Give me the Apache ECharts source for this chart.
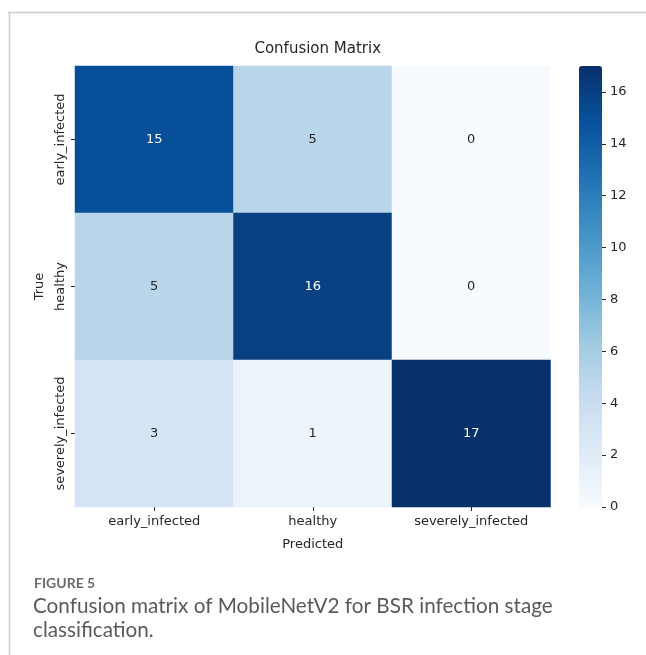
<!DOCTYPE html>
<html>
<head>
<meta charset="utf-8">
<script src="https://cdn.jsdelivr.net/npm/echarts@6/dist/echarts.min.js"></script>
<style>
  html, body { margin: 0; padding: 0; background: #ffffff; }
  #chart { width: 646px; height: 655px; }
</style>
</head>
<body>
<div id="chart"></div>
<script>
// Class labels (predicted on x, true on y)
const predictedLabels = ['early_infected', 'healthy', 'severely_infected'];
const trueLabels = ['early_infected', 'healthy', 'severely_infected'];

// Confusion counts, one row per true class
const rowEarly = [15, 5, 0];
const rowHealthy = [5, 16, 0];
const rowSevere = [3, 1, 17];
const matrixRows = [rowEarly, rowHealthy, rowSevere];

// Colour bar range and ticks
const colorMin = 0;
const colorMax = 17;
const colorTickStep = 2;

// matplotlib "Blues" colormap
const blues = ['#f7fbff', '#deebf7', '#c6dbef', '#9ecae1', '#6baed6',
               '#4292c6', '#2171b5', '#08519c', '#08306b'];

const cellData = [];
matrixRows.forEach((row, yi) => {
  row.forEach((v, xi) => {
    cellData.push({
      value: [xi, yi, v],
      label: { color: v > (colorMax - colorMin) / 2 ? '#ffffff' : '#262626' }
    });
  });
});

const fontFam = 'DejaVu Sans';
const gLeft = 75, gTop = 66, gW = 475.5, gH = 441;
const cbLeft = 579, cbW = 23;

const chart = echarts.init(document.getElementById('chart'), null, { renderer: 'canvas' });
chart.setOption({
  animation: false,
  backgroundColor: '#ffffff',
  title: {
    text: 'Confusion Matrix',
    left: gLeft + gW / 2,
    textAlign: 'center',
    top: 37,
    textStyle: { fontFamily: fontFam, fontSize: 15, fontWeight: 'normal', color: '#262626' }
  },
  grid: [
    { left: gLeft, top: gTop, width: gW, height: gH },
    // thin strip along the right edge of the colour bar, carrying its scale
    { left: cbLeft + cbW, top: gTop, width: 1, height: gH }
  ],
  xAxis: [
    {
      type: 'category', gridIndex: 0, data: predictedLabels,
      name: 'Predicted', nameLocation: 'middle', nameGap: 31,
      nameTextStyle: { fontFamily: fontFam, fontSize: 13, color: '#262626' },
      axisLine: { show: false },
      axisTick: { show: true, alignWithLabel: true, length: 4, lineStyle: { color: '#262626' } },
      axisLabel: { fontFamily: fontFam, fontSize: 13, color: '#262626', margin: 8, interval: 0 },
      splitLine: { show: false }
    },
    { type: 'value', gridIndex: 1, show: false, min: 0, max: 1 }
  ],
  yAxis: [
    {
      type: 'category', gridIndex: 0, data: trueLabels, inverse: true,
      name: 'True', nameLocation: 'middle', nameGap: 29, nameRotate: 90,
      nameTextStyle: { fontFamily: fontFam, fontSize: 13, color: '#262626' },
      axisLine: { show: false },
      axisTick: { show: true, alignWithLabel: true, length: 4, lineStyle: { color: '#262626' } },
      axisLabel: { fontFamily: fontFam, fontSize: 13, color: '#262626', rotate: 90, margin: 8, interval: 0, hideOverlap: false },
      splitLine: { show: false }
    },
    {
      type: 'value', gridIndex: 1, position: 'left', z: 10,
      min: colorMin, max: colorMax, interval: colorTickStep,
      axisLine: { show: false },
      axisTick: { show: true, inside: true, length: 4, lineStyle: { color: '#262626', width: 1 } },
      axisLabel: {
        inside: true,
        fontFamily: fontFam, fontSize: 13, color: '#262626', margin: 8,
        showMaxLabel: false,
        formatter: v => (v % colorTickStep === 0 ? String(v) : '')
      },
      splitLine: { show: false }
    }
  ],
  visualMap: {
    type: 'continuous',
    min: colorMin, max: colorMax,
    calculable: false,
    realtime: false,
    seriesIndex: 0,
    left: cbLeft, top: gTop,
    itemWidth: cbW, itemHeight: gH,
    padding: 0,
    z: 1,
    text: null,
    showLabel: false,
    inRange: { color: blues }
  },
  series: [{
    type: 'heatmap',
    xAxisIndex: 0, yAxisIndex: 0,
    data: cellData,
    label: { show: true, fontFamily: fontFam, fontSize: 13 },
    itemStyle: { borderWidth: 0 },
    emphasis: { disabled: true }
  }],
  graphic: [
    { type: 'line', shape: { x1: 8, y1: 12.5, x2: 646, y2: 12.5 }, style: { stroke: '#cccccc', lineWidth: 1.5 } },
    { type: 'line', shape: { x1: 9.5, y1: 12, x2: 9.5, y2: 655 }, style: { stroke: '#cccccc', lineWidth: 1.5 } },
    { type: 'text', left: 34, top: 576, style: { text: 'FIGURE 5', fontFamily: 'Lato', fontSize: 14, fontWeight: 'bold', fill: '#6b6b6b' } },
    { type: 'text', left: 33, top: 596, style: { text: 'Confusion matrix of MobileNetV2 for BSR infection stage', fontFamily: 'Lato', fontSize: 20.7, fill: '#5a5a5a' } },
    { type: 'text', left: 33, top: 620, style: { text: 'classification.', fontFamily: 'Lato', fontSize: 20.7, fill: '#5a5a5a' } }
  ]
});
</script>
</body>
</html>
